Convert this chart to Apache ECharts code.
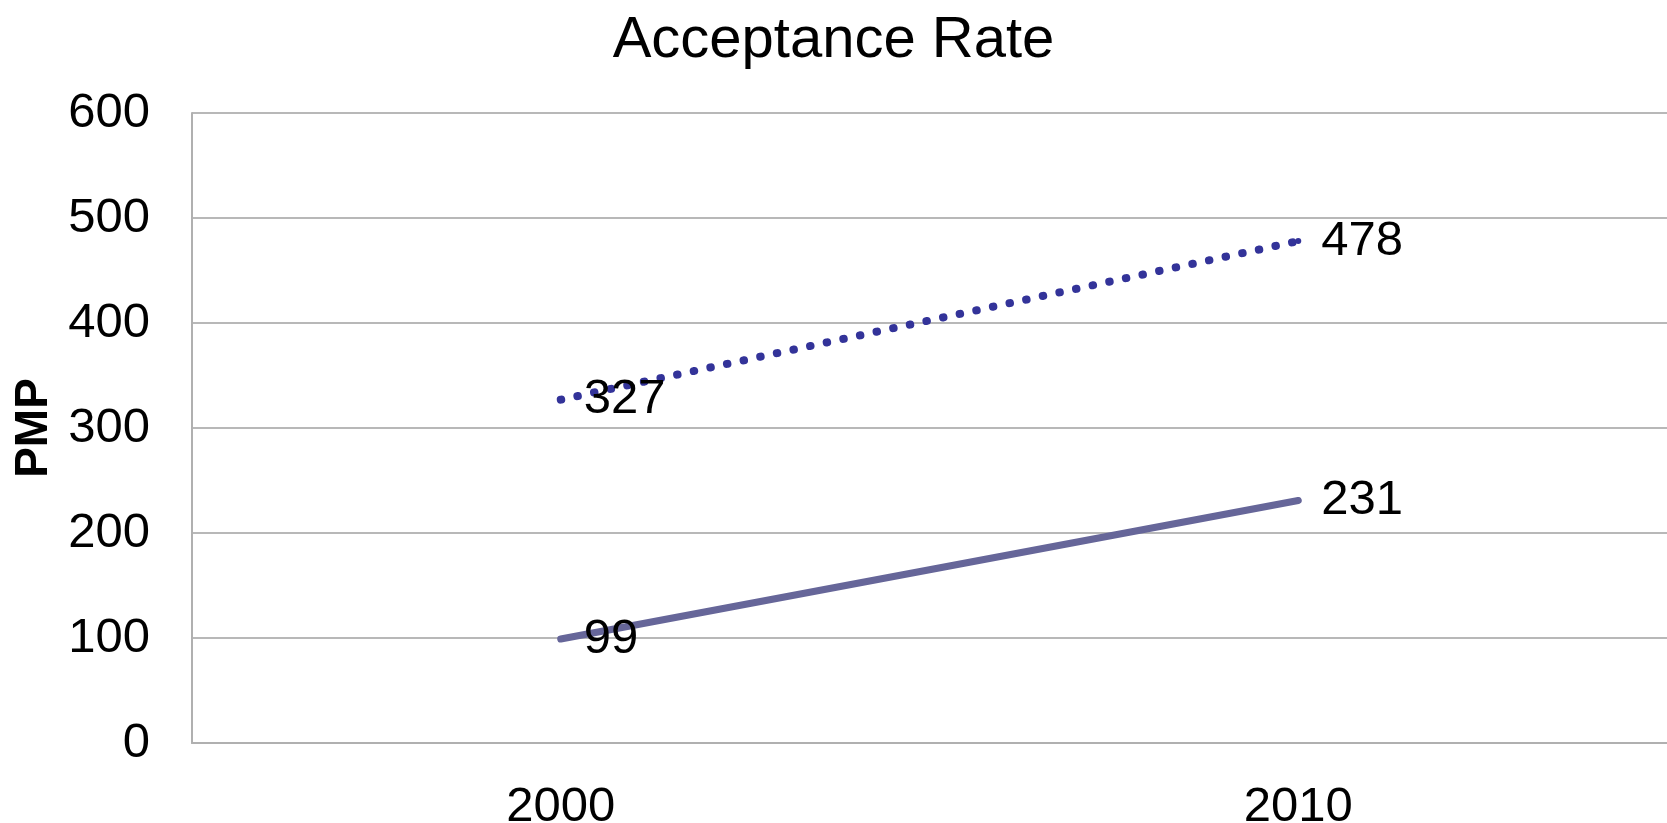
<!DOCTYPE html>
<html>
<head>
<meta charset="utf-8">
<script src="https://cdn.jsdelivr.net/npm/echarts@6/dist/echarts.min.js"></script>
<style>
  html, body { margin: 0; padding: 0; background: #fff; }
  #chart { width: 1667px; height: 823px; }
</style>
</head>
<body>
<div id="chart"></div>
<script>
const years = ['2000', '2010']
const dottedValues = [327, 478]
const solidValues = [99, 231]
const yTicks = [0, 100, 200, 300, 400, 500, 600]

const chart = echarts.init(document.getElementById('chart'))
const font = '"Liberation Sans", Arial, sans-serif'

const labelStyle = {
  show: true,
  position: 'right',
  distance: 20,
  fontFamily: font,
  fontSize: 49,
  color: '#000'
}

const option = {
  animation: false,
  title: {
    text: 'Acceptance Rate',
    left: 'center',
    top: 7,
    textStyle: { fontFamily: font, fontSize: 58, fontWeight: 'normal', color: '#000' }
  },
  grid: { left: 192, top: 113, right: 0, bottom: 80, containLabel: false, outerBoundsMode: 'none' },
  xAxis: {
    type: 'category',
    data: years,
    boundaryGap: true,
    axisTick: { show: false },
    axisLine: { lineStyle: { color: '#b0b0b0', width: 2 } },
    axisLabel: { fontFamily: font, fontSize: 49, color: '#000', margin: 40 }
  },
  yAxis: {
    type: 'value',
    min: yTicks[0],
    max: yTicks[yTicks.length - 1],
    interval: 100,
    name: 'PMP',
    nameLocation: 'middle',
    nameGap: 123,
    nameTextStyle: { fontFamily: font, fontSize: 46, fontWeight: 'bold', color: '#000' },
    axisLine: { show: true, lineStyle: { color: '#b0b0b0', width: 2 } },
    axisTick: { show: false },
    axisLabel: { fontFamily: font, fontSize: 49, color: '#000', margin: 42 },
    splitLine: { lineStyle: { color: '#a0a0a0', width: 1.5 } }
  },
  series: [
    {
      name: 'dotted',
      type: 'line',
      data: dottedValues,
      symbol: 'circle',
      symbolSize: 6,
      itemStyle: { color: '#333399' },
      lineStyle: { color: '#333399', width: 8, type: [0.5, 16.5], cap: 'round' },
      label: labelStyle
    },
    {
      name: 'solid',
      type: 'line',
      data: solidValues,
      symbol: 'circle',
      symbolSize: 6,
      itemStyle: { color: '#666699' },
      lineStyle: { color: '#666699', width: 7, cap: 'round' },
      label: labelStyle
    }
  ]
}

chart.setOption(option)
</script>
</body>
</html>
